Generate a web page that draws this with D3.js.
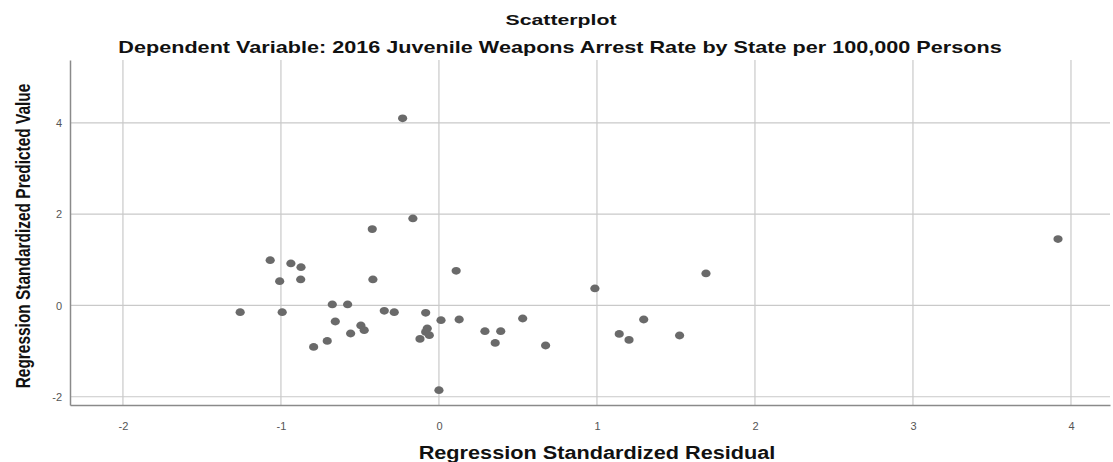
<!DOCTYPE html>
<html>
<head>
<meta charset="utf-8">
<script src="https://cdn.jsdelivr.net/npm/d3@7/dist/d3.min.js"></script>
<style>
  html, body { margin: 0; padding: 0; background: #fff; }
  svg { display: block; }
  text { font-family: "Liberation Sans", Arial, sans-serif; }
</style>
</head>
<body>
<svg id="chart" width="1113" height="462"></svg>
<script>
// Standardized residuals (x) and standardized predicted values (y), one per state
const residuals = [
  -1.258, -1.068, -0.937, -0.873, -1.008, -0.875, -0.992, -0.675, -0.578, -0.656,
  -0.793, -0.707, -0.559, -0.494, -0.473, -0.418, -0.422, -0.230, -0.165, -0.346,
  -0.283, -0.084, -0.074, -0.084, -0.061, -0.120, 0.013, 0.000, 0.109, 0.128,
  0.291, 0.391, 0.356, 0.530, 0.675, 0.987, 1.141, 1.203, 1.296, 1.523,
  1.690, 3.918
];
const predicted = [
  -0.147, 0.993, 0.921, 0.840, 0.533, 0.570, -0.147, 0.022, 0.022, -0.351,
  -0.908, -0.776, -0.614, -0.439, -0.542, 0.570, 1.673, 4.101, 1.908, -0.118,
  -0.147, -0.162, -0.504, -0.579, -0.651, -0.732, -0.322, -1.857, 0.759, -0.307,
  -0.564, -0.564, -0.820, -0.285, -0.877, 0.373, -0.623, -0.754, -0.307, -0.658,
  0.702, 1.454
];
const xTicks = [-2, -1, 0, 1, 2, 3, 4];
const yTicks = [-2, 0, 2, 4];

const titleText = "Scatterplot";
const subtitleText = "Dependent Variable: 2016 Juvenile Weapons Arrest Rate by State per 100,000 Persons";
const xTitle = "Regression Standardized Residual";
const yTitle = "Regression Standardized Predicted Value";

const svg = d3.select("#chart");
const plot = { left: 70, right: 1110, top: 60, bottom: 405 };

const x = d3.scaleLinear().domain([-2.335, 4.247]).range([plot.left, plot.right]);
const y = d3.scaleLinear().domain([-2.181, 5.379]).range([plot.bottom, plot.top]);

// Grid lines
const grid = svg.append("g").attr("stroke", "#c9c9c9").attr("stroke-width", 1.2);
grid.selectAll("line.v").data(xTicks).join("line")
  .attr("x1", d => x(d)).attr("x2", d => x(d))
  .attr("y1", plot.top).attr("y2", plot.bottom);
grid.selectAll("line.h").data(yTicks).join("line")
  .attr("x1", plot.left).attr("x2", plot.right)
  .attr("y1", d => y(d)).attr("y2", d => y(d));

// Axes (plain hyphen for negative tick labels)
const fmt = d => String(d);
const xAxis = svg.append("g")
  .attr("transform", `translate(0,${plot.bottom})`)
  .call(d3.axisBottom(x).tickValues(xTicks).tickSize(0).tickPadding(17).tickFormat(fmt));
const yAxis = svg.append("g")
  .attr("transform", `translate(${plot.left},0)`)
  .call(d3.axisLeft(y).tickValues(yTicks).tickSize(0).tickPadding(8).tickFormat(fmt));
[xAxis, yAxis].forEach(a => {
  a.select(".domain").attr("stroke", "#8a8a8a").attr("stroke-width", 1.5);
  a.selectAll("text").attr("fill", "#555").style("font-size", "11px");
});

// Points
svg.append("g").selectAll("ellipse")
  .data(residuals.map((r, i) => [r, predicted[i]]))
  .join("ellipse")
  .attr("cx", d => x(d[0])).attr("cy", d => y(d[1]))
  .attr("rx", 4.6).attr("ry", 3.9)
  .attr("fill", "#6a6a6a");

// Titles: bold text, scaled horizontally to a target width
function label(txt, tx, ty, size, width, rotate) {
  const g = svg.append("g");
  const t = g.append("text")
    .attr("text-anchor", "middle")
    .attr("font-weight", "bold")
    .style("font-size", size + "px")
    .attr("fill", "#111")
    .text(txt);
  const natural = t.node().getComputedTextLength();
  const sx = width / natural;
  g.attr("transform", `translate(${tx},${ty})` + (rotate ? " rotate(-90)" : "") + ` scale(${sx},1)`);
  return g;
}
label(titleText, 561, 25, 15, 111, false);
label(subtitleText, 560, 53, 16, 884, false);
label(xTitle, 597, 459, 18, 357, false);
label(yTitle, 30, 236, 20, 305, true);
</script>
</body>
</html>
